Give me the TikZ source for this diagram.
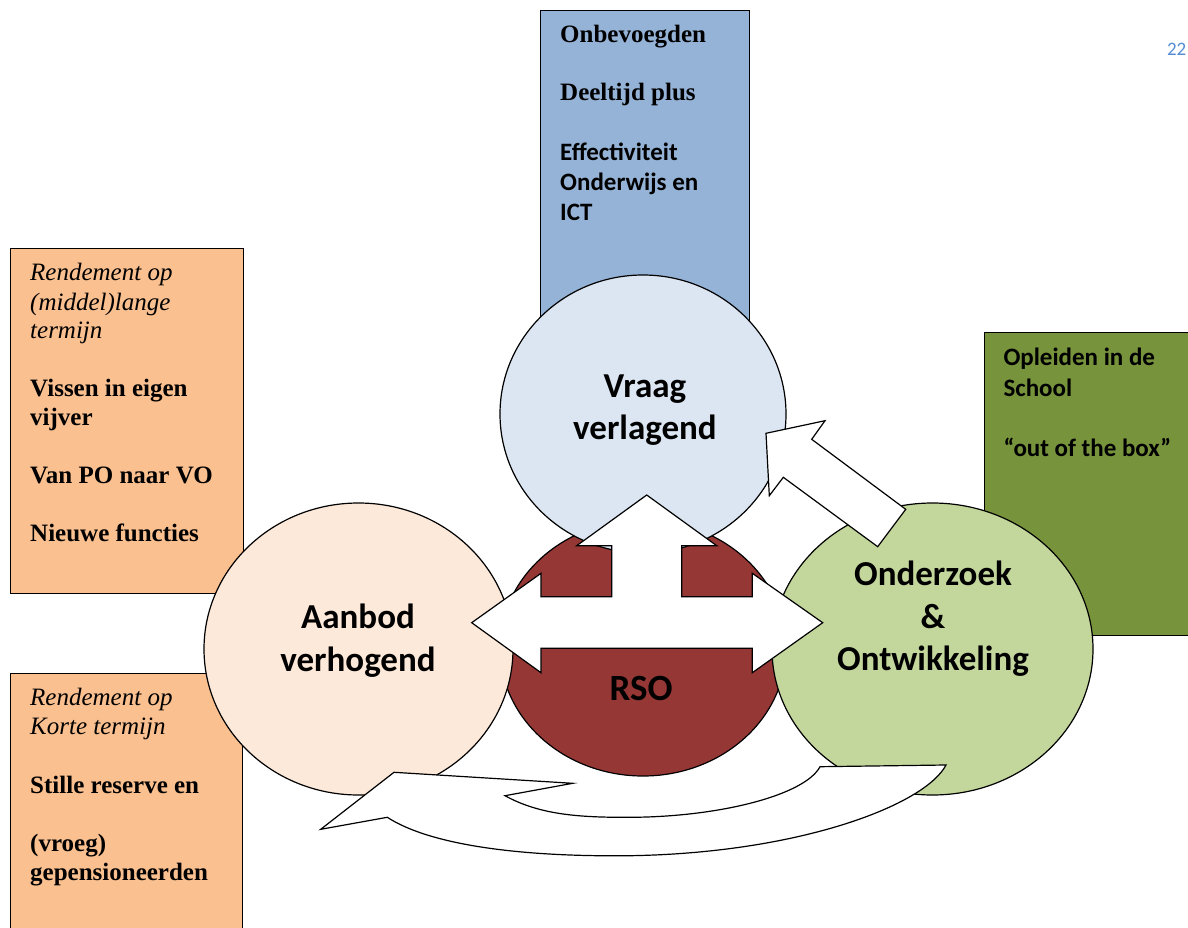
\documentclass[tikz,border=0pt]{standalone}
\usepackage{fontspec}
\setmainfont{Liberation Serif}
\newfontfamily\calibri{Carlito}
\usetikzlibrary{shapes.geometric}
\definecolor{boxblue}{HTML}{95B3D7}
\definecolor{circblue}{HTML}{DCE6F2}
\definecolor{boxorange}{HTML}{FAC090}
\definecolor{circpeach}{HTML}{FDE9D9}
\definecolor{rsored}{HTML}{953735}
\definecolor{circgreen}{HTML}{C3D69B}
\definecolor{boxgreen}{HTML}{77933C}
\definecolor{pagenum}{HTML}{548DD4}
\begin{document}
\begin{tikzpicture}[x=1pt,y=-1pt,
  panel/.style={draw=black, line width=1.2pt, rectangle, inner sep=0pt, anchor=north west},
  disc/.style={draw=black, line width=1.2pt, ellipse, inner sep=0pt},
  blockarrow/.style={draw=black, fill=white, line width=1.2pt, line join=miter},
  ctext/.style={font=\calibri\bfseries\fontsize{35}{42}\selectfont, anchor=base, inner sep=0pt},
  tbold/.style={font=\bfseries\fontsize{25}{29}\selectfont, anchor=base west, inner sep=0pt},
  tital/.style={font=\itshape\fontsize{25}{29}\selectfont, anchor=base west, inner sep=0pt},
  cbold/.style={font=\calibri\bfseries\fontsize{25}{30}\selectfont, anchor=base west, inner sep=0pt}
]
\useasboundingbox (0,0) rectangle (1188,928);
\clip (0,0) rectangle (1188,928);
\fill[white] (0,0) rectangle (1188,928);

% boxes
\node[panel, fill=boxblue, minimum width=209pt, minimum height=330pt] (bluebox) at (540,10) {};
\node[panel, fill=boxorange, minimum width=233pt, minimum height=345pt] (orangetop) at (10,248) {};
\node[panel, fill=boxorange, minimum width=232pt, minimum height=300pt] (orangebot) at (10,673) {};
\node[panel, fill=boxgreen, minimum width=240pt, minimum height=303pt] (greenbox) at (984,332) {};

% circles
\node[disc, fill=rsored, minimum width=286pt, minimum height=256pt] (rso) at (643,648) {};
\node[disc, fill=circblue, minimum width=286pt, minimum height=278pt] (vraag) at (643,414) {};
\node[disc, fill=circpeach, minimum width=309pt, minimum height=292pt] (aanbod) at (358.5,649) {};
\node[disc, fill=circgreen, minimum width=321pt, minimum height=292pt] (onderzoek) at (932.5,649) {};

% block arrows
\draw[blockarrow] (646.7,495) -- (716.7,545.7) -- (681.7,545.7) -- (681.7,596.7)
  -- (752.3,596.7) -- (752.3,573.3) -- (822.7,622.7) -- (752.3,672.7) -- (752.3,648.3)
  -- (541,648.3) -- (541,672.7) -- (471.7,622.7) -- (541,573.3) -- (541,596.7)
  -- (611.7,596.7) -- (611.7,545.7) -- (576.7,545.7) -- cycle;
\draw[blockarrow] (766,433.3) -- (825,420.7) -- (811.7,439.3) -- (905.7,509.3)
  -- (877.7,546.7) -- (783.3,477.3) -- (769.3,495.7) -- cycle;
\draw[blockarrow] (320.7,829.3) -- (394,772.3) -- (572.7,783.3) -- (505,795.7)
  .. controls (540,815) and (580,817.5) .. (630,817.3)
  .. controls (720,817) and (805,795) .. (820,766.7)
  -- (946,765)
  .. controls (925,805) and (800,853) .. (630,855.7)
  .. controls (520,857) and (430,845) .. (387.3,817.3) -- cycle;

% circle texts
\node[ctext] (vr1) at (645,397) {Vraag};
\node[ctext] (vr2) at (645,439) {verlagend};
\node[ctext] (aa1) at (358,628.3) {Aanbod};
\node[ctext] (aa2) at (358,671.7) {verhogend};
\node[ctext] (on1) at (933,585) {Onderzoek};
\node[ctext] (on2) at (933,628.3) {\&};
\node[ctext] (on3) at (933,670.7) {Ontwikkeling};
\node[ctext, font=\calibri\bfseries\fontsize{37}{44}\selectfont] (rsot) at (641,700) {RSO};

% blue box texts
\node[tbold] (b1) at (560,43) {Onbevoegden};
\node[tbold] (b2) at (560,101) {Deeltijd plus};
\node[cbold] (b3) at (560,161) {Effectiviteit};
\node[cbold] (b4) at (560,190) {Onderwijs en};
\node[cbold] (b5) at (560,221) {ICT};

% top-left box texts
\node[tital] (l1) at (30,280.7) {Rendement op};
\node[tital] (l2) at (30,310) {(middel)lange};
\node[tital] (l3) at (30,338.3) {termijn};
\node[tbold] (l4) at (30,396.7) {Vissen in eigen};
\node[tbold] (l5) at (30,425) {vijver};
\node[tbold] (l6) at (30,483.3) {Van PO naar VO};
\node[tbold] (l7) at (30,541.7) {Nieuwe functies};

% bottom-left box texts
\node[tital] (k1) at (30,705.7) {Rendement op};
\node[tital] (k2) at (30,734) {Korte termijn};
\node[tbold] (k3) at (30,793.3) {Stille reserve en};
\node[tbold] (k4) at (30,851.7) {(vroeg)};
\node[tbold] (k5) at (30,880) {gepensioneerden};

% green box texts
\node[cbold] (g1) at (1003.3,365) {Opleiden in de};
\node[cbold] (g2) at (1003.3,396) {School};
\node[cbold] (g3) at (1003.3,456) {“out of the box”};

% page number
\node[font=\calibri\fontsize{19}{22}\selectfont, text=pagenum, anchor=base east, inner sep=0pt] (page) at (1186.5,56) {22};
\end{tikzpicture}
\end{document}
